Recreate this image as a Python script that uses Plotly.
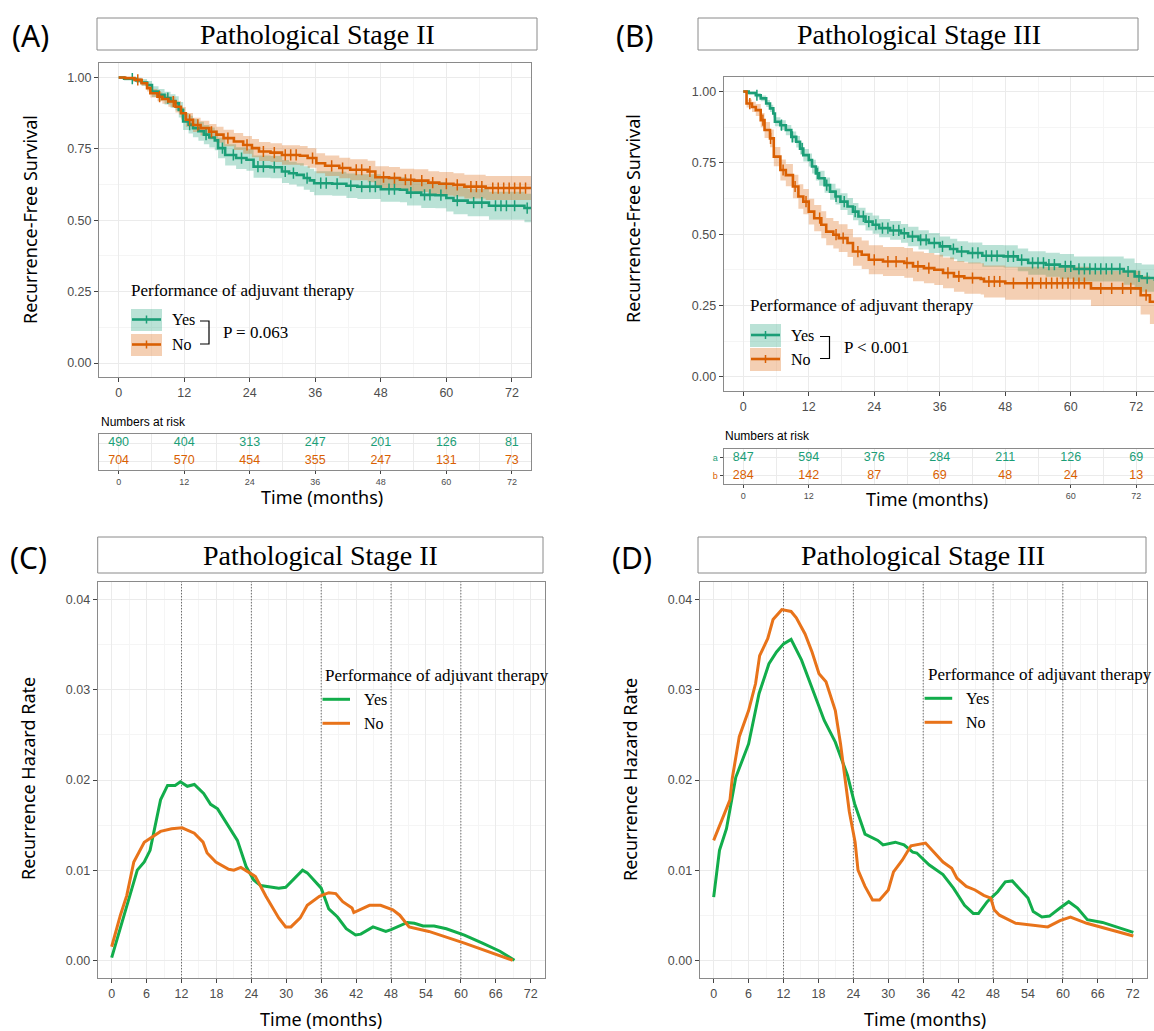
import numpy as np
import plotly.graph_objects as go

W, H = 1154, 1031
def fx(p): return p / W
def fy(p): return 1 - p / H

# ---------------- DATA ----------------
risk_times = [0, 12, 24, 36, 48, 60, 72]
risk_b_axis_labels = [0, 12, 60, 72]   # 24/36/48 are hidden behind the axis title in the reference
risk_a_yes = [490, 404, 313, 247, 201, 126, 81]
risk_a_no = [704, 570, 454, 355, 247, 131, 73]
risk_b_yes = [847, 594, 376, 284, 211, 126, 69]
risk_b_no = [284, 142, 87, 69, 48, 24, 13]

# Panel A (Stage II) Kaplan-Meier, adjuvant = Yes
a_yes_t = [0, 1.0, 3.2, 4.2, 5.2, 6.1, 7.3, 8.4, 9.5, 10.4, 11.0, 11.8, 12.8, 13.6, 14.6, 15.6, 16.6, 17.6, 18.2, 19.5,
           21.5, 23.4, 24.7, 27.8, 29.9, 31.2, 32.6, 33.9, 35.0, 35.8, 39.1, 41.7, 43.7, 48.0, 51.5, 52.8, 55.4, 58.0,
           60.0, 61.3, 63.9, 67.8, 74.3]
a_yes_s = [1.0, .996, .990, .983, .974, .951, .940, .928, .918, .910, .887, .846, .835, .823, .812, .800, .790, .780,
           .753, .729, .718, .712, .688, .686, .671, .665, .659, .648, .640, .630, .628, .621, .618, .609, .607, .597,
           .589, .588, .578, .569, .562, .551, .543]
a_yes_hi = [1.0, 1.0, .999, .995, .988, .970, .960, .950, .942, .935, .914, .876, .866, .855, .845, .834, .825, .815,
            .789, .766, .756, .750, .727, .725, .711, .705, .700, .689, .681, .672, .670, .664, .661, .653, .651, .642,
            .635, .634, .625, .617, .610, .600, .593]
a_yes_lo = [1.0, .990, .981, .971, .960, .932, .920, .906, .894, .885, .860, .816, .804, .791, .779, .766, .755, .745,
            .717, .692, .680, .674, .649, .647, .631, .625, .618, .607, .599, .588, .586, .578, .575, .565, .563, .552,
            .543, .542, .531, .521, .514, .502, .493]
a_yes_cens = [2.5, 9, 13, 16, 19, 21, 22.5, 25.5, 26.5, 28.5, 30.5, 32, 34.5, 37, 38, 40, 42.5, 44.5, 46, 47, 49.5,
              50.5, 53.5, 56, 57, 59, 62, 65, 66.5, 69, 70, 71, 72.5, 74.8]

# Panel A, adjuvant = No
a_no_t = [0, 1.2, 2.9, 4.2, 5.2, 5.8, 7.1, 8.0, 9.1, 10.4, 11.4, 12.3, 13.6, 15.0, 16.6, 17.9, 19.2, 21.1, 22.8, 24.4,
          25.7, 27.8, 29.9, 33.2, 34.6, 36.2, 37.8, 40.4, 42.4, 45.6, 47.0, 49.5, 51.5, 54.1, 56.7, 58.7, 61.3, 63.3, 67.2]
a_no_s = [1.0, .998, .992, .980, .963, .945, .933, .925, .916, .898, .875, .852, .834, .823, .810, .800, .788, .776,
          .764, .753, .741, .737, .729, .726, .718, .700, .691, .683, .677, .671, .651, .648, .642, .639, .632, .628,
          .624, .618, .613]
a_no_hi = [1.0, 1.0, .998, .989, .975, .960, .949, .942, .934, .918, .897, .876, .859, .849, .837, .828, .817, .806,
           .795, .785, .774, .770, .763, .760, .752, .735, .727, .719, .714, .709, .689, .687, .681, .679, .672, .669,
           .665, .660, .655]
a_no_lo = [1.0, .995, .986, .971, .951, .930, .917, .908, .898, .878, .853, .828, .809, .797, .783, .772, .759, .746,
           .733, .721, .708, .704, .695, .692, .684, .665, .655, .647, .640, .633, .613, .609, .603, .599, .592, .587,
           .583, .576, .571]
a_no_cens = [3.5, 7.5, 10, 13, 14.5, 17, 20, 23.5, 26.5, 28.5, 30.5, 31.5, 32.5, 35.5, 39, 41, 43.5, 44.5, 46, 48.5,
             50.5, 52.5, 53.5, 55.5, 57.5, 60, 62, 64.5, 65.5, 66.5, 68.5, 69.5, 70.5, 71.5, 72.5, 73.5, 74.5]

# Panel B (Stage III) Kaplan-Meier, adjuvant = Yes
b_yes_t = [0, 1.0, 2.3, 3.2, 4.2, 4.9, 5.5, 5.8, 6.8, 7.8, 8.8, 9.7, 10.4, 11.0, 12.0, 12.6, 13.3, 13.9, 14.9, 15.9,
           16.9, 17.8, 19.1, 20.1, 21.1, 22.4, 23.7, 24.9, 26.9, 28.9, 30.2, 32.1, 34.0, 36.0, 37.9, 39.2, 41.2, 43.8,
           47.7, 50.3, 52.2, 55.4, 58.0, 60.6, 69.7, 71.7, 73.0, 75.4]
b_yes_s = [1.0, .995, .987, .976, .958, .941, .923, .894, .882, .865, .841, .824, .800, .777, .760, .737, .713, .696,
           .672, .649, .632, .614, .597, .579, .562, .544, .533, .521, .513, .503, .492, .480, .469, .457, .448, .439,
           .434, .424, .422, .410, .399, .393, .387, .378, .369, .352, .346, .340]
b_yes_hi = [1.0, 1.0, .995, .986, .970, .954, .937, .910, .899, .883, .860, .844, .821, .799, .783, .761, .738, .722,
            .699, .677, .660, .643, .627, .609, .593, .575, .565, .553, .546, .536, .526, .514, .504, .492, .484, .475,
            .471, .462, .461, .450, .440, .435, .430, .422, .415, .399, .394, .389]
b_yes_lo = [1.0, .990, .979, .966, .946, .928, .909, .878, .865, .847, .822, .804, .779, .755, .737, .713, .688, .670,
            .645, .621, .604, .585, .567, .549, .531, .513, .501, .489, .480, .470, .458, .446, .434, .422, .412, .403,
            .397, .386, .383, .370, .358, .351, .344, .334, .323, .305, .298, .291]
b_yes_cens = [2.5, 7, 9, 10.8, 13.6, 15.3, 17, 18.5, 20.5, 22, 23, 24.3, 25.5, 26.5, 27.5, 28.5, 29.5, 31, 32.5, 33.5,
              35, 36.5, 38.5, 40, 42, 43, 44.5, 45.5, 46.5, 48.5, 49.5, 51, 53, 54, 55, 56, 57, 59, 60, 61.5, 62.5,
              63.5, 64.5, 65.5, 66.5, 67.5, 69, 70.5, 72.5, 74]

# Panel B, adjuvant = No
b_no_t = [0, 0.6, 1.6, 2.3, 3.2, 3.9, 4.9, 5.6, 6.8, 7.8, 9.1, 10.1, 11.0, 12.0, 13.0, 14.3, 15.2, 16.5, 17.5, 19.1,
          20.1, 21.7, 23.0, 25.6, 29.5, 31.1, 33.1, 35.0, 36.6, 38.6, 40.5, 43.5, 44.1, 48.0, 63.7, 72.8, 74.5]
b_no_s = [1.0, .958, .946, .935, .900, .865, .836, .772, .725, .707, .667, .632, .614, .579, .556, .533, .509, .498,
          .486, .469, .439, .428, .410, .404, .399, .387, .381, .375, .364, .352, .346, .343, .334, .328, .310, .286,
          .263]
b_no_hi = [1.0, .972, .964, .956, .925, .893, .867, .806, .762, .746, .708, .675, .658, .624, .602, .580, .557, .546,
           .535, .518, .489, .478, .461, .455, .451, .439, .434, .428, .418, .406, .401, .398, .390, .386, .372, .354,
           .341]
b_no_lo = [1.0, .944, .928, .914, .875, .837, .805, .738, .688, .668, .626, .589, .570, .534, .510, .486, .461, .450,
           .437, .420, .389, .378, .359, .353, .347, .335, .328, .322, .310, .298, .291, .288, .278, .270, .248, .218,
           .185]
b_no_cens = [1.2, 3.6, 5, 7.3, 9.5, 11.5, 14, 17, 18.3, 21, 24, 26.5, 28, 30, 32, 34, 37.5, 39.5, 42, 45, 46, 47,
             49.5, 52, 53, 54.5, 55.5, 56.5, 57.5, 58.5, 59.5, 60.5, 61.5, 62.5, 65.5, 67.5, 69.5, 71, 73.8]

# Panel C (Stage II) hazard rates
c_yes_t = [0, 1.7, 3.0, 4.4, 5.6, 6.6, 8.4, 9.6, 10.9, 11.8, 13.0, 14.2, 15.8, 17.0, 18.2, 20.1, 21.6, 23.1, 24.4,
           25.6, 28.7, 29.9, 31.7, 32.8, 33.6, 35.1, 36.0, 37.3, 38.8, 40.3, 41.9, 42.8, 44.9, 47.1, 48.0, 50.8, 52.0,
           53.5, 55.4, 57.5, 60.6, 63.7, 66.7, 69.2]
c_yes_h = [0.0003, 0.0041, 0.0070, 0.0100, 0.0109, 0.0122, 0.0178, 0.0194, 0.0194, 0.0198, 0.0193, 0.0195, 0.0185,
           0.0173, 0.0168, 0.0148, 0.0133, 0.0104, 0.0089, 0.0083, 0.0080, 0.0081, 0.0093, 0.0100, 0.0097, 0.0086,
           0.0080, 0.0057, 0.0048, 0.0035, 0.0028, 0.0029, 0.0037, 0.0032, 0.0034, 0.0042, 0.0041, 0.0038, 0.0038,
           0.0035, 0.0028, 0.0019, 0.0010, 0.0]
c_no_t = [0, 1.5, 2.6, 3.8, 5.6, 8.4, 10.3, 12.1, 14.2, 15.7, 16.4, 17.9, 20.1, 21.0, 22.2, 24.7, 26.5, 28.7, 29.9,
          30.8, 32.4, 33.6, 35.7, 37.3, 38.5, 39.7, 41.3, 41.6, 44.3, 46.2, 48.3, 49.5, 51.1, 54.5, 60.6, 68.9]
c_no_h = [0.0015, 0.0050, 0.0072, 0.0109, 0.0131, 0.0143, 0.0146, 0.0147, 0.0141, 0.0131, 0.0119, 0.0109, 0.0101,
          0.0100, 0.0103, 0.0093, 0.0071, 0.0047, 0.0037, 0.0037, 0.0047, 0.0061, 0.0071, 0.0075, 0.0074, 0.0065,
          0.0058, 0.0053, 0.0061, 0.0061, 0.0056, 0.0050, 0.0037, 0.0032, 0.0019, 0.0000]

# Panel D (Stage III) hazard rates
d_yes_t = [0, 1.0, 2.2, 3.8, 6.0, 7.8, 9.5, 10.8, 12.0, 13.3, 15.1, 16.9, 19.0, 20.9, 23.0, 24.2, 26.0, 28.2, 29.1,
           31.2, 32.7, 34.2, 34.9, 37.0, 38.2, 39.4, 41.2, 43.1, 44.6, 45.5, 47.0, 48.8, 50.1, 51.3, 54.0, 54.9, 56.4,
           57.7, 59.5, 61.0, 62.5, 64.2, 66.8, 69.8, 72.1]
d_yes_h = [0.0070, 0.0122, 0.0146, 0.0203, 0.0240, 0.0296, 0.0329, 0.0342, 0.0351, 0.0356, 0.0333, 0.0303, 0.0266,
           0.0242, 0.0205, 0.0174, 0.0140, 0.0133, 0.0128, 0.0131, 0.0128, 0.0120, 0.0119, 0.0106, 0.0100, 0.0095,
           0.0080, 0.0061, 0.0052, 0.0052, 0.0065, 0.0076, 0.0087, 0.0088, 0.0069, 0.0054, 0.0048, 0.0049, 0.0058,
           0.0065, 0.0058, 0.0045, 0.0042, 0.0036, 0.0031]
d_no_t = [0, 1.4, 2.8, 3.2, 4.4, 6.0, 7.2, 7.9, 9.3, 10.2, 11.7, 13.3, 14.2, 15.7, 16.9, 18.1, 19.3, 20.9, 21.8, 23.3,
          24.3, 24.8, 26.0, 27.3, 28.5, 30.0, 30.9, 32.4, 33.9, 36.4, 37.9, 39.4, 40.9, 41.8, 43.4, 44.9, 46.4, 47.6,
          48.2, 49.1, 51.9, 54.3, 57.4, 59.5, 61.3, 64.1, 68.0, 72.1]
d_no_h = [0.0133, 0.0155, 0.0178, 0.0202, 0.0248, 0.0277, 0.0307, 0.0338, 0.0357, 0.0378, 0.0389, 0.0387, 0.0380,
          0.0362, 0.0342, 0.0318, 0.0309, 0.0277, 0.0240, 0.0165, 0.0131, 0.0100, 0.0082, 0.0067, 0.0067, 0.0078,
          0.0098, 0.0111, 0.0127, 0.0130, 0.0120, 0.0109, 0.0102, 0.0091, 0.0082, 0.0078, 0.0072, 0.0069, 0.0056,
          0.0050, 0.0041, 0.0039, 0.0037, 0.0044, 0.0048, 0.0041, 0.0034, 0.0027]

milestones = [12, 24, 36, 48, 60]
km_end = 81.5

# ---------------- STYLE ----------------
TEAL, ORNG = "#1B9E77", "#D95F02"
TEAL_F, ORNG_F = "rgba(27,158,119,0.30)", "rgba(217,95,2,0.30)"
HG, HO = "#12AD4B", "#E8731A"
GRID, MINOR = "#EBEBEB", "#F5F5F5"
BORDER, TICKC = "#8A8A8A", "#4D4D4D"
SERIF = "Liberation Serif"
SANS = "Noto Sans"
ARIAL = "Liberation Sans"

km_x_range_a = [-3.6, 75.5]
km_x_range_b = [-3.6, 75.25]
km_y_range = [-0.05, 1.05]
hz_x_range = [-2.4, 74.45]
hz_y_range = [-0.002, 0.042]

fig = go.Figure()

# dotted milestone lines (drawn first, underneath the curves)
for xa, ya in [("x5", "y5"), ("x6", "y6")]:
    for m in milestones:
        fig.add_trace(go.Scatter(x=[m, m], y=hz_y_range, mode="lines",
                                 line=dict(color="#3A3A3A", width=1, dash="1px,2px"),
                                 xaxis=xa, yaxis=ya, showlegend=False, hoverinfo="skip"))


def add_band(t, lo, hi, fill, xa, ya):
    xs = list(t) + [km_end]
    fig.add_trace(go.Scatter(x=xs, y=list(hi) + [hi[-1]], mode="lines", line=dict(width=0, shape="hv"),
                             xaxis=xa, yaxis=ya, showlegend=False, hoverinfo="skip"))
    fig.add_trace(go.Scatter(x=xs, y=list(lo) + [lo[-1]], mode="lines", line=dict(width=0, shape="hv"),
                             fill="tonexty", fillcolor=fill, xaxis=xa, yaxis=ya, showlegend=False, hoverinfo="skip"))


def add_curve(t, s, cens, color, xa, ya):
    xs = list(t) + [km_end]
    fig.add_trace(go.Scatter(x=xs, y=list(s) + [s[-1]], mode="lines", line=dict(width=2.6, color=color, shape="hv"),
                             xaxis=xa, yaxis=ya, showlegend=False))
    idx = np.searchsorted(np.array(t), np.array(cens), side="right") - 1
    cy = [s[i] for i in idx]
    fig.add_trace(go.Scatter(x=cens, y=cy, mode="markers",
                             marker=dict(symbol="line-ns", size=8, line=dict(width=1.5, color=color)),
                             xaxis=xa, yaxis=ya, showlegend=False))


# Panel A
add_band(a_yes_t, a_yes_lo, a_yes_hi, TEAL_F, "x", "y")
add_band(a_no_t, a_no_lo, a_no_hi, ORNG_F, "x", "y")
add_curve(a_yes_t, a_yes_s, a_yes_cens, TEAL, "x", "y")
add_curve(a_no_t, a_no_s, a_no_cens, ORNG, "x", "y")
# Panel B
add_band(b_yes_t, b_yes_lo, b_yes_hi, TEAL_F, "x3", "y3")
add_band(b_no_t, b_no_lo, b_no_hi, ORNG_F, "x3", "y3")
add_curve(b_yes_t, b_yes_s, b_yes_cens, TEAL, "x3", "y3")
add_curve(b_no_t, b_no_s, b_no_cens, ORNG, "x3", "y3")

# risk tables
for xa, ya, yes, no in [("x2", "y2", risk_a_yes, risk_a_no), ("x4", "y4", risk_b_yes, risk_b_no)]:
    fig.add_trace(go.Scatter(x=risk_times, y=[2] * len(yes), mode="text", text=[str(v) for v in yes],
                             textfont=dict(family=ARIAL, size=12.5, color=TEAL), xaxis=xa, yaxis=ya,
                             showlegend=False, cliponaxis=False))
    fig.add_trace(go.Scatter(x=risk_times, y=[1] * len(no), mode="text", text=[str(v) for v in no],
                             textfont=dict(family=ARIAL, size=12.5, color=ORNG), xaxis=xa, yaxis=ya,
                             showlegend=False, cliponaxis=False))

# hazard curves
for xa, ya, ty, hy, tn, hn in [("x5", "y5", c_yes_t, c_yes_h, c_no_t, c_no_h),
                               ("x6", "y6", d_yes_t, d_yes_h, d_no_t, d_no_h)]:
    fig.add_trace(go.Scatter(x=ty, y=hy, mode="lines", line=dict(color=HG, width=3), xaxis=xa, yaxis=ya,
                             showlegend=False))
    fig.add_trace(go.Scatter(x=tn, y=hn, mode="lines", line=dict(color=HO, width=3), xaxis=xa, yaxis=ya,
                             showlegend=False))


def ax(**kw):
    d = dict(showline=True, linecolor=BORDER, linewidth=1, mirror=True, zeroline=False,
             ticks="outside", ticklen=4, tickwidth=1, tickcolor="#444444",
             showgrid=True, gridcolor=GRID, gridwidth=1,
             tickfont=dict(family=ARIAL, size=12.5, color=TICKC))
    d.update(kw)
    return d


layout_axes = dict(
    xaxis=ax(domain=[fx(99), fx(531)], range=km_x_range_a, anchor="y", tickmode="linear", tick0=0, dtick=12,
             minor=dict(tick0=0, dtick=6, showgrid=True, gridcolor=MINOR)),
    yaxis=ax(domain=[fy(377.3), fy(63.3)], range=km_y_range, anchor="x", tickmode="linear", tick0=0, dtick=0.25,
             tickformat=".2f", minor=dict(tick0=0, dtick=0.125, showgrid=True, gridcolor=MINOR)),
    xaxis2=ax(domain=[fx(99), fx(531)], range=km_x_range_a, anchor="y2", tickmode="linear", tick0=0, dtick=12,
              ticklen=3, tickfont=dict(family=ARIAL, size=9, color=TICKC),
              minor=dict(tick0=0, dtick=6, showgrid=True, gridcolor=GRID)),
    yaxis2=ax(domain=[fy(470.3), fy(434)], range=[0.5, 2.5], anchor="x2", tickvals=[1, 2],
              showticklabels=False, ticks=""),
    xaxis3=ax(domain=[fx(723.6), 1.0], range=km_x_range_b, anchor="y3", tickmode="linear", tick0=0, dtick=12,
              minor=dict(tick0=0, dtick=6, showgrid=True, gridcolor=MINOR)),
    yaxis3=ax(domain=[fy(391), fy(77.3)], range=km_y_range, anchor="x3", tickmode="linear", tick0=0, dtick=0.25,
              tickformat=".2f", mirror=False, minor=dict(tick0=0, dtick=0.125, showgrid=True, gridcolor=MINOR)),
    xaxis4=ax(domain=[fx(723.6), 1.0], range=km_x_range_b, anchor="y4", tickmode="array",
              tickvals=risk_b_axis_labels, ticktext=[str(v) for v in risk_b_axis_labels],
              ticklen=3, tickfont=dict(family=ARIAL, size=9, color=TICKC),
              minor=dict(tickmode="linear", tick0=0, dtick=6, showgrid=True, gridcolor=GRID)),
    yaxis4=ax(domain=[fy(484.3), fy(448.7)], range=[0.5, 2.5], anchor="x4", tickvals=[1, 2], mirror=False,
              ticktext=['<span style="color:%s">b</span>' % ORNG, '<span style="color:%s">a</span>' % TEAL],
              ticklen=3, tickfont=dict(family=ARIAL, size=9)),
    xaxis5=ax(domain=[fx(97.7), fx(545)], range=hz_x_range, anchor="y5", tickmode="linear", tick0=0, dtick=6,
              minor=dict(tick0=0, dtick=3, showgrid=True, gridcolor=MINOR)),
    yaxis5=ax(domain=[fy(978.3), fy(581.7)], range=hz_y_range, anchor="x5", tickmode="linear", tick0=0,
              dtick=0.01, tickformat=".2f", minor=dict(tick0=0, dtick=0.005, showgrid=True, gridcolor=MINOR)),
    xaxis6=ax(domain=[fx(699.7), fx(1147)], range=hz_x_range, anchor="y6", tickmode="linear", tick0=0, dtick=6,
              minor=dict(tick0=0, dtick=3, showgrid=True, gridcolor=MINOR)),
    yaxis6=ax(domain=[fy(978.3), fy(581.7)], range=hz_y_range, anchor="x6", tickmode="linear", tick0=0,
              dtick=0.01, tickformat=".2f", minor=dict(tick0=0, dtick=0.005, showgrid=True, gridcolor=MINOR)),
)

fig.update_layout(width=W, height=H, margin=dict(l=0, r=0, t=0, b=0), paper_bgcolor="white",
                  plot_bgcolor="white", showlegend=False, **layout_axes)

shapes = []
annotations = []


def ann(x, y, text, size, family, color="black", xanchor="center", yanchor="middle", angle=0, **kw):
    annotations.append(dict(x=fx(x), y=fy(y), xref="paper", yref="paper", text=text, showarrow=False,
                            font=dict(family=family, size=size, color=color), xanchor=xanchor, yanchor=yanchor,
                            textangle=angle, **kw))


def rect(x0, y0, x1, y1, fill="rgba(0,0,0,0)", line_color=None, width=1):
    shapes.append(dict(type="rect", xref="paper", yref="paper", x0=fx(x0), x1=fx(x1), y0=fy(y1), y1=fy(y0),
                       fillcolor=fill, line=dict(color=line_color or "rgba(0,0,0,0)", width=width if line_color else 0),
                       layer="above"))


def seg(x0, y0, x1, y1, color, width):
    shapes.append(dict(type="line", xref="paper", yref="paper", x0=fx(x0), x1=fx(x1), y0=fy(y0), y1=fy(y1),
                       line=dict(color=color, width=width), layer="above"))


# panel labels
for x, y, t in [(30, 35, "(A)"), (635, 35, "(B)"), (28.5, 557, "(C)"), (631.5, 557, "(D)")]:
    ann(x, y, t, 30, SANS)

# strip titles
for x0, y0, x1, y1, cx, cy, t in [(97, 18, 537, 50, 317, 34, "Pathological Stage II"),
                                  (698, 18, 1138, 50, 919, 34, "Pathological Stage III"),
                                  (97.7, 537, 543, 573, 320, 555, "Pathological Stage II"),
                                  (698, 537, 1146, 573, 922.5, 555, "Pathological Stage III")]:
    rect(x0, y0, x1, y1, fill="white", line_color=BORDER, width=1)
    ann(cx, cy, t, 28, SERIF)

# axis titles
ann(30, 220, "Recurrence-Free Survival", 18, SANS, angle=-90)
ann(633, 219, "Recurrence-Free Survival", 18, SANS, angle=-90)
ann(28, 779, "Recurrence Hazard Rate", 18, SANS, angle=-90)
ann(630, 779, "Recurrence Hazard Rate", 18, SANS, angle=-90)

ann(99, 422, "Numbers at risk", 12, ARIAL, xanchor="left")
ann(723, 436, "Numbers at risk", 12, ARIAL, xanchor="left")

ann(322, 497, "Time (months)", 18, SANS)
ann(927, 499, "Time (months)", 18, SANS)
ann(321, 1019, "Time (months)", 18, SANS)
ann(925, 1019, "Time (months)", 18, SANS)

# KM legends
for (tx, ty, kx0, kx1, yy0, yy1, ny0, ny1, lyy, lny, txx, bx0, bx1, ptxt) in [
        (129, 290, 131, 162, 309, 331, 334, 356, 319.5, 344.5, 170, 200, 209, "P = 0.063"),
        (748, 305, 750, 781, 324, 347, 348, 371, 335, 359, 789, 820, 829.5, "P &lt; 0.001")]:
    ann(tx, ty, "Performance of adjuvant therapy", 17, SERIF, xanchor="left")
    rect(kx0, yy0, kx1, yy1, fill=TEAL_F)
    rect(kx0, ny0, kx1, ny1, fill=ORNG_F)
    seg(kx0 + 1, lyy, kx1 - 1, lyy, TEAL, 2.6)
    seg(kx0 + 1, lny, kx1 - 1, lny, ORNG, 2.6)
    cx = (kx0 + kx1) / 2
    seg(cx, lyy - 4, cx, lyy + 4, TEAL, 1.5)
    seg(cx, lny - 4, cx, lny + 4, ORNG, 1.5)
    ann(txx, lyy, "Yes", 16, SERIF, xanchor="left")
    ann(txx, lny, "No", 16, SERIF, xanchor="left")
    top, bot = lyy + 1.5, lny - 0.5
    shapes.append(dict(type="path", xref="paper", yref="paper",
                       path="M %f %f L %f %f L %f %f L %f %f" % (fx(bx0), fy(top), fx(bx1), fy(top),
                                                                fx(bx1), fy(bot), fx(bx0), fy(bot)),
                       line=dict(color="black", width=1.2), layer="above"))
    ann(bx1 + 12, (top + bot) / 2, ptxt, 17, SERIF, xanchor="left")

# hazard legends
for tx, ty, lx0, lx1, yy, ny, txx in [(323, 675.7, 322.5, 350, 699.3, 723.3, 361.8),
                                      (925.6, 674, 924.6, 952.2, 698.3, 722.3, 963.6)]:
    ann(tx, ty, "Performance of adjuvant therapy", 17, SERIF, xanchor="left")
    seg(lx0, yy, lx1, yy, HG, 3)
    seg(lx0, ny, lx1, ny, HO, 3)
    ann(txx, yy, "Yes", 16, SERIF, xanchor="left")
    ann(txx, ny, "No", 16, SERIF, xanchor="left")

fig.update_layout(shapes=shapes, annotations=annotations)
fig.write_html("out.html", config={"displayModeBar": False},
               post_script="document.body.style.margin='0px';document.body.style.overflow='hidden';")
